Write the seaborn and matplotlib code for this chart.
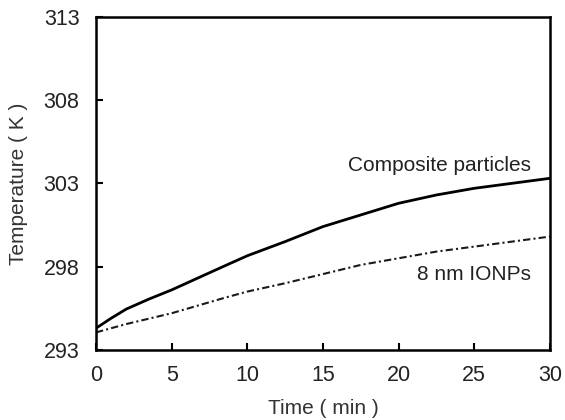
import numpy as np
import pandas as pd
import matplotlib
matplotlib.use("Agg")
import matplotlib.pyplot as plt
import seaborn as sns

# ----------------------------------------------------------------
# Data
# ----------------------------------------------------------------
time_composite = [0, 1, 2, 3.5, 5, 8.4, 10, 12.5, 15, 17.5, 20, 22.5, 25, 27.5, 30]
temp_composite = [294.3, 294.9, 295.45, 296.05, 296.6, 298.0, 298.65, 299.5, 300.4,
                  301.1, 301.8, 302.3, 302.7, 303.0, 303.3]

time_ionp = [0, 2, 5, 8.4, 10, 12.5, 15, 17.5, 20, 22.5, 25, 27.5, 30]
temp_ionp = [294.05, 294.55, 295.2, 296.1, 296.5, 297.0, 297.55, 298.1, 298.5,
             298.9, 299.2, 299.5, 299.8]

x_ticks = [0, 5, 10, 15, 20, 25, 30]
y_ticks = [293, 298, 303, 308, 313]

df_comp = pd.DataFrame({"time": time_composite, "temp": temp_composite})
df_ionp = pd.DataFrame({"time": time_ionp, "temp": temp_ionp})

# ----------------------------------------------------------------
# Plot
# ----------------------------------------------------------------
sns.set_style("ticks")
plt.rcParams['font.family'] = ['Liberation Sans', 'DejaVu Sans']

fig = plt.figure(figsize=(5.65, 4.2), dpi=100)
ax = fig.add_axes([0.170, 0.167, 0.803, 0.793])

sns.lineplot(data=df_comp, x="time", y="temp", ax=ax, color="black", linewidth=2.0)
sns.lineplot(data=df_ionp, x="time", y="temp", ax=ax, color="#1a1a1a",
             linewidth=1.5, linestyle=(0, (3.5, 1.5, 1, 1.5)))

ax.set_xlim(0, 30)
ax.set_ylim(293, 313)
ax.set_xticks(x_ticks)
ax.set_yticks(y_ticks)
ax.tick_params(direction="in", length=5, width=1.5, labelsize=15.5, colors="black",
               labelcolor="#222222")
ax.tick_params(axis="y", pad=12)
ax.tick_params(axis="x", pad=11)
for s in ax.spines.values():
    s.set_linewidth(1.8)
    s.set_color("black")

ax.set_xlabel("Time ( min )", fontsize=15, color="#333333", labelpad=9)
ax.set_ylabel("Temperature ( K )", fontsize=15, color="#333333", labelpad=11)

ax.text(28.75, 304.1, "Composite particles", fontsize=15, ha="right", va="center",
        color="#222222")
ax.text(28.75, 297.5, "8 nm IONPs", fontsize=15, ha="right", va="center",
        color="#222222")

fig.savefig("out.png", dpi=100)
